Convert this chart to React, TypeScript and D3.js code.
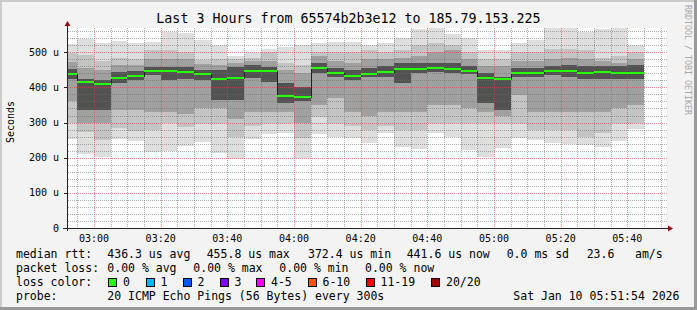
import React from 'react';
import * as d3 from 'd3';

// smoke distribution per 5-minute bar (µs)
const pMin = [252,211,203,252,248,215,218,234,245,214,197,254,268,271,200,268,258,255,242,271,231,225,271,260,222,203,229,255,250,242,239,236,231,248,281];
const pLo1 = [300,274,250,285,275,280,298,288,300,300,260,290,300,298,255,317,300,290,279,290,280,280,300,300,300,300,300,300,280,280,280,260,270,298,298];
const pLo2 = [360,300,300,335,335,330,330,325,340,340,310,330,330,330,300,350,369,331,320,330,330,330,350,350,340,330,320,378,330,330,330,330,330,340,350];
const pLo3 = [425,336,336,412,420,435,421,425,421,364,364,426,416,355,360,440,430,420,430,430,412,440,445,440,438,355,336,430,430,435,430,425,425,425,425];
const pMedian = [439,415,411,427,432,448,447,444,439,424,427,448,448,376,373,455,442,432,439,444,453,453,455,453,447,427,425,442,442,447,447,442,444,442,442];
const pHi3 = [452,425,420,445,447,458,459,459,450,450,459,464,459,412,402,470,455,450,455,460,470,470,470,470,460,440,431,455,455,460,465,460,460,460,465];
const pHi2 = [472,455,450,465,465,480,480,480,468,465,470,475,475,450,440,490,475,470,480,480,483,490,500,505,480,460,460,475,475,480,485,480,475,470,480];
const pHi1 = [497,492,475,485,480,505,506,500,478,480,480,485,500,470,465,500,500,500,505,500,505,520,525,520,500,480,480,500,500,510,510,505,485,490,500];
const pMax = [524,537,527,533,525,530,557,554,535,521,489,497,510,516,520,527,530,530,521,526,540,566,568,551,540,505,505,525,535,568,568,559,565,568,521];

const yTicks = [0, 100, 200, 300, 400, 500];
const yTickLabels = ['0', '100 u', '200 u', '300 u', '400 u', '500 u'];
const xTickLabels = ['03:00', '03:20', '03:40', '04:00', '04:20', '04:40', '05:00', '05:20', '05:40'];

const title = 'Last 3 Hours from 65574b2b3e12 to 185.79.153.225';
const lossColors = ['#26ff00', '#00b8ff', '#0059ff', '#7e00ff', '#ff00ff', '#ff5500', '#ff0000', '#a10000'];
const lossLabels = ['0', '1', '2', '3', '4-5', '6-10', '11-19', '20/20'];
const lossX = [108, 145.5, 182.5, 219.5, 256, 307.5, 365.5, 431];

const W = 697, H = 310;
const L = 67, R = 667, T = 28, B = 228;
const MONO = '"DejaVu Sans Mono", monospace';
const MINOR = 'rgba(110,110,110,0.55)';
const MAJOR = 'rgba(235,60,60,0.6)';

// time expressed in minutes since midnight (start 02:51:54, end 05:51:54)
const START_MIN = 2 * 60 + 51 + 54 / 60;
const END_MIN = START_MIN + 180;

export default function App() {
  const x = d3.scaleLinear().domain([START_MIN, END_MIN]).range([L, R]);
  const y = d3.scaleLinear().domain([0, 569]).range([B, T]);

  const bars = pMedian.map((m, i) => {
    const t0 = 170 + 5 * i; // 02:50 + 5i
    const x0 = Math.max(L, Math.round(x(t0)));
    const x1 = Math.round(x(t0 + 5));
    return { x0, x1, i, m };
  });

  const levels = [
    { lo: pMin, hi: pMax, c: '#dedede' },
    { lo: pLo1, hi: pHi1, c: '#c4c4c4' },
    { lo: pLo2, hi: pHi2, c: '#a0a0a0' },
    { lo: pLo3, hi: pHi3, c: '#525252' },
  ];

  // grid every 5 minutes from 02:55 to 05:50, labels every 20 minutes from 03:00
  const gridMins = d3.range(175, 355, 5);
  const labelMins = d3.range(180, 355, 20);
  const minorMins = gridMins.filter((m) => labelMins.indexOf(m) < 0);
  const hLines = d3.range(20, 569, 20);

  let stepD = '';
  bars.forEach((b, k) => {
    const yy = Math.round(y(b.m)) + 0.5;
    if (k === 0) stepD += `M${b.x0},${yy}`;
    else stepD += `V${yy}`;
    stepD += `H${b.x1}`;
  });

  return (
    <div style={{ position: 'absolute', left: 0, top: 0 }}>
      <svg width={W} height={H} style={{ display: 'block' }}>
        <rect x={0} y={0} width={W} height={H} fill="#f3f3f3" />
        <rect x={0} y={0} width={W} height={2} fill="#cbcbcb" />
        <rect x={0} y={0} width={2} height={H} fill="#cbcbcb" />
        <rect x={0} y={H - 3} width={W} height={3} fill="#999999" />
        <rect x={W - 3} y={0} width={3} height={H} fill="#999999" />
        <rect x={L} y={T} width={R - L} height={B - T} fill="#ffffff" />

        {levels.map((lv, li) => (
          <g key={li} shapeRendering="crispEdges">
            {bars.map((b) => {
              const yt = Math.round(y(lv.hi[b.i]));
              const yb = Math.round(y(lv.lo[b.i]));
              return <rect key={b.i} x={b.x0} y={yt} width={b.x1 - b.x0} height={yb - yt} fill={lv.c} />;
            })}
          </g>
        ))}

        <g shapeRendering="crispEdges" strokeDasharray="1 1">
          {hLines.filter((v) => v % 100 !== 0).map((v) => (
            <line key={'h' + v} x1={L + 1} x2={R} y1={Math.round(y(v)) + 0.5} y2={Math.round(y(v)) + 0.5} stroke={MINOR} />
          ))}
          {minorMins.map((m) => {
            const xx = Math.round(x(m)) + 0.5;
            return <line key={'v' + m} x1={xx} x2={xx} y1={T} y2={B} stroke={MINOR} />;
          })}
        </g>
        <g shapeRendering="crispEdges" strokeDasharray="1 1">
          {yTicks.filter((v) => v > 0).map((v) => (
            <line key={'hm' + v} x1={L + 1} x2={R} y1={Math.round(y(v)) + 0.5} y2={Math.round(y(v)) + 0.5} stroke={MAJOR} />
          ))}
          {labelMins.map((m) => {
            const xx = Math.round(x(m)) + 0.5;
            return <line key={'vm' + m} x1={xx} x2={xx} y1={T} y2={B} stroke={MAJOR} />;
          })}
        </g>

        <path d={stepD} fill="none" stroke="#202020" strokeWidth={1} shapeRendering="crispEdges" />
        <g shapeRendering="crispEdges">
          {bars.map((b) => {
            const yy = Math.round(y(b.m));
            return <rect key={'m' + b.i} x={b.x0} y={yy - 1} width={b.x1 - b.x0} height={2} fill={lossColors[0]} />;
          })}
        </g>

        {/* axes */}
        <g shapeRendering="crispEdges">
          <line x1={L - 4} x2={R + 3} y1={B + 0.5} y2={B + 0.5} stroke="#222" />
          <line x1={L + 0.5} x2={L + 0.5} y1={B + 3} y2={T - 4} stroke="#222" />
          {yTicks.map((v) => (
            <line key={'yt' + v} x1={L - 3} x2={L} y1={Math.round(y(v)) + 0.5} y2={Math.round(y(v)) + 0.5} stroke="#222" />
          ))}
        </g>
        <polygon points={`${L - 2.5},${T - 2} ${L + 3.5},${T - 2} ${L + 0.5},${T - 7}`} fill="#8b1010" />
        <polygon points={`${R + 1},${B - 2.5} ${R + 1},${B + 3.5} ${R + 6},${B + 0.5}`} fill="#8b1010" />

        {yTicks.map((v, k) => (
          <text key={'yl' + v} x={59} y={y(v) + 3.5} textAnchor="end" fontFamily={MONO} fontSize={10} fill="#000">
            {yTickLabels[k]}
          </text>
        ))}
        {labelMins.map((m, k) => (
          <text key={'xl' + m} x={x(m)} y={241.5} textAnchor="middle" fontFamily={MONO} fontSize={10} fill="#000">
            {xTickLabels[k]}
          </text>
        ))}

        <text x={348.5} y={23} textAnchor="middle" fontFamily={MONO} fontSize={13.3} fill="#000">{title}</text>
        <text transform="translate(14,122) rotate(-90)" textAnchor="middle" fontFamily={MONO} fontSize={10} fill="#000">Seconds</text>
        <text transform="translate(685,5) rotate(90)" fontFamily={MONO} fontSize={8.3} fill="#a8a8a8">RRDTOOL / TOBI OETIKER</text>

        <g fontFamily={MONO} fontSize={11.5} fill="#000" style={{ whiteSpace: 'pre' }}>
          <text x={16} y={258}>median rtt:</text>
          <text x={107.3} y={258}>436.3 us avg</text>
          <text x={206.7} y={258}>455.8 us max</text>
          <text x={308} y={258}>372.4 us min</text>
          <text x={406.7} y={258}>441.6 us now</text>
          <text x={506.7} y={258}>0.0 ms sd</text>
          <text x={586.7} y={258}>23.6</text>
          <text x={635} y={258}>am/s</text>

          <text x={16} y={272}>packet loss:</text>
          <text x={107.3} y={272}>0.00 % avg</text>
          <text x={193.3} y={272}>0.00 % max</text>
          <text x={279.3} y={272}>0.00 % min</text>
          <text x={365} y={272}>0.00 % now</text>

          <text x={16} y={286}>loss color:</text>
          {lossLabels.map((lab, k) => (
            <g key={'lc' + k}>
              <rect x={lossX[k] + 0.5} y={278.5} width={8} height={8} fill={lossColors[k]} stroke="#000" shapeRendering="crispEdges" />
              <text x={lossX[k] + 15} y={286}>{lab}</text>
            </g>
          ))}

          <text x={16} y={300}>probe:</text>
          <text x={107.3} y={300}>20 ICMP Echo Pings (56 Bytes) every 300s</text>
          <text x={513.3} y={300}>Sat Jan 10 05:51:54 2026</text>
        </g>
      </svg>
    </div>
  );
}
